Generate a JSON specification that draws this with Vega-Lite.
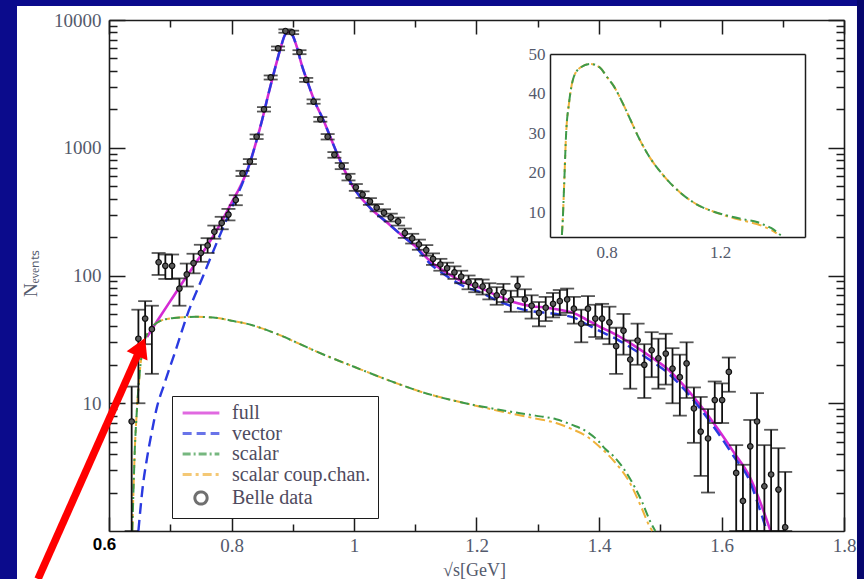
{
  "$schema": "https://vega.github.io/schema/vega-lite/v6.json",
  "width": 735,
  "height": 511,
  "autosize": {"type": "none"},
  "padding": {"left": 109, "top": 20, "right": 20, "bottom": 48},
  "background": "white",
  "config": {
    "view": {"stroke": null},
    "axis": {
      "grid": false,
      "ticks": false,
      "domainColor": "#1c1c1c",
      "domainWidth": 1.6,
      "gridColor": "#1c1c1c",
      "gridWidth": 1.5,
      "gridOpacity": 1,
      "labelFont": "Liberation Serif",
      "labelColor": "#545a6c",
      "titleFont": "Liberation Serif",
      "titleColor": "#545a6c",
      "titleFontWeight": "normal",
      "labelFlush": false,
      "labelOverlap": false,
      "labelBound": false
    }
  },
  "datasets": {
    "curves": [
      {"curve": "full", "x": 0.662, "y": 33},
      {"curve": "full", "x": 0.680, "y": 45},
      {"curve": "full", "x": 0.700, "y": 63},
      {"curve": "full", "x": 0.720, "y": 88},
      {"curve": "full", "x": 0.740, "y": 122},
      {"curve": "full", "x": 0.760, "y": 170},
      {"curve": "full", "x": 0.780, "y": 245},
      {"curve": "full", "x": 0.800, "y": 370},
      {"curve": "full", "x": 0.820, "y": 570},
      {"curve": "full", "x": 0.830, "y": 760},
      {"curve": "full", "x": 0.840, "y": 1100},
      {"curve": "full", "x": 0.850, "y": 1650},
      {"curve": "full", "x": 0.860, "y": 2600},
      {"curve": "full", "x": 0.870, "y": 4000},
      {"curve": "full", "x": 0.880, "y": 6000},
      {"curve": "full", "x": 0.887, "y": 7600},
      {"curve": "full", "x": 0.893, "y": 8100},
      {"curve": "full", "x": 0.899, "y": 7700},
      {"curve": "full", "x": 0.906, "y": 6300},
      {"curve": "full", "x": 0.915, "y": 4400},
      {"curve": "full", "x": 0.923, "y": 3400},
      {"curve": "full", "x": 0.936, "y": 2290},
      {"curve": "full", "x": 0.950, "y": 1650},
      {"curve": "full", "x": 0.961, "y": 1224},
      {"curve": "full", "x": 0.977, "y": 800},
      {"curve": "full", "x": 0.999, "y": 490},
      {"curve": "full", "x": 1.026, "y": 340},
      {"curve": "full", "x": 1.053, "y": 262},
      {"curve": "full", "x": 1.075, "y": 212},
      {"curve": "full", "x": 1.100, "y": 170},
      {"curve": "full", "x": 1.124, "y": 130},
      {"curve": "full", "x": 1.150, "y": 106},
      {"curve": "full", "x": 1.178, "y": 89},
      {"curve": "full", "x": 1.206, "y": 80},
      {"curve": "full", "x": 1.233, "y": 70},
      {"curve": "full", "x": 1.260, "y": 62},
      {"curve": "full", "x": 1.290, "y": 57.5},
      {"curve": "full", "x": 1.315, "y": 56},
      {"curve": "full", "x": 1.340, "y": 53.5},
      {"curve": "full", "x": 1.358, "y": 51},
      {"curve": "full", "x": 1.380, "y": 45},
      {"curve": "full", "x": 1.400, "y": 40},
      {"curve": "full", "x": 1.430, "y": 34},
      {"curve": "full", "x": 1.456, "y": 28.5},
      {"curve": "full", "x": 1.485, "y": 23},
      {"curve": "full", "x": 1.511, "y": 18.7},
      {"curve": "full", "x": 1.540, "y": 13.5},
      {"curve": "full", "x": 1.565, "y": 9.7},
      {"curve": "full", "x": 1.595, "y": 6.2},
      {"curve": "full", "x": 1.619, "y": 4.2},
      {"curve": "full", "x": 1.647, "y": 2.6},
      {"curve": "full", "x": 1.665, "y": 1.6},
      {"curve": "full", "x": 1.680, "y": 1.0},

      {"curve": "vector", "x": 0.648, "y": 1.0},
      {"curve": "vector", "x": 0.655, "y": 2.2},
      {"curve": "vector", "x": 0.662, "y": 3.7},
      {"curve": "vector", "x": 0.670, "y": 6.0},
      {"curve": "vector", "x": 0.678, "y": 9.2},
      {"curve": "vector", "x": 0.690, "y": 14},
      {"curve": "vector", "x": 0.710, "y": 27},
      {"curve": "vector", "x": 0.727, "y": 48},
      {"curve": "vector", "x": 0.754, "y": 100},
      {"curve": "vector", "x": 0.776, "y": 181},
      {"curve": "vector", "x": 0.798, "y": 320},
      {"curve": "vector", "x": 0.820, "y": 560},
      {"curve": "vector", "x": 0.830, "y": 760},
      {"curve": "vector", "x": 0.840, "y": 1100},
      {"curve": "vector", "x": 0.850, "y": 1650},
      {"curve": "vector", "x": 0.860, "y": 2600},
      {"curve": "vector", "x": 0.870, "y": 4000},
      {"curve": "vector", "x": 0.880, "y": 6000},
      {"curve": "vector", "x": 0.887, "y": 7600},
      {"curve": "vector", "x": 0.893, "y": 8100},
      {"curve": "vector", "x": 0.899, "y": 7700},
      {"curve": "vector", "x": 0.906, "y": 6300},
      {"curve": "vector", "x": 0.915, "y": 4400},
      {"curve": "vector", "x": 0.923, "y": 3400},
      {"curve": "vector", "x": 0.936, "y": 2290},
      {"curve": "vector", "x": 0.950, "y": 1650},
      {"curve": "vector", "x": 0.961, "y": 1224},
      {"curve": "vector", "x": 0.977, "y": 800},
      {"curve": "vector", "x": 0.999, "y": 490},
      {"curve": "vector", "x": 1.026, "y": 340},
      {"curve": "vector", "x": 1.053, "y": 262},
      {"curve": "vector", "x": 1.075, "y": 212},
      {"curve": "vector", "x": 1.100, "y": 168},
      {"curve": "vector", "x": 1.124, "y": 124},
      {"curve": "vector", "x": 1.150, "y": 100},
      {"curve": "vector", "x": 1.178, "y": 83},
      {"curve": "vector", "x": 1.206, "y": 74},
      {"curve": "vector", "x": 1.233, "y": 64},
      {"curve": "vector", "x": 1.260, "y": 57},
      {"curve": "vector", "x": 1.290, "y": 52.5},
      {"curve": "vector", "x": 1.315, "y": 51},
      {"curve": "vector", "x": 1.340, "y": 49},
      {"curve": "vector", "x": 1.358, "y": 47},
      {"curve": "vector", "x": 1.380, "y": 41.5},
      {"curve": "vector", "x": 1.400, "y": 37},
      {"curve": "vector", "x": 1.430, "y": 31.5},
      {"curve": "vector", "x": 1.456, "y": 26.5},
      {"curve": "vector", "x": 1.485, "y": 21.5},
      {"curve": "vector", "x": 1.511, "y": 17.5},
      {"curve": "vector", "x": 1.540, "y": 12.7},
      {"curve": "vector", "x": 1.565, "y": 9.1},
      {"curve": "vector", "x": 1.595, "y": 5.8},
      {"curve": "vector", "x": 1.619, "y": 3.9},
      {"curve": "vector", "x": 1.647, "y": 2.4},
      {"curve": "vector", "x": 1.662, "y": 1.5},
      {"curve": "vector", "x": 1.674, "y": 1.0},

      {"curve": "scalar", "x": 0.638, "y": 1.0},
      {"curve": "scalar", "x": 0.641, "y": 3.0},
      {"curve": "scalar", "x": 0.642, "y": 4.2},
      {"curve": "scalar", "x": 0.645, "y": 8},
      {"curve": "scalar", "x": 0.650, "y": 17},
      {"curve": "scalar", "x": 0.657, "y": 30},
      {"curve": "scalar", "x": 0.667, "y": 37.5},
      {"curve": "scalar", "x": 0.683, "y": 44},
      {"curve": "scalar", "x": 0.706, "y": 46.5},
      {"curve": "scalar", "x": 0.742, "y": 47.5},
      {"curve": "scalar", "x": 0.777, "y": 46.5},
      {"curve": "scalar", "x": 0.803, "y": 44},
      {"curve": "scalar", "x": 0.824, "y": 42},
      {"curve": "scalar", "x": 0.857, "y": 37.5},
      {"curve": "scalar", "x": 0.883, "y": 33.5},
      {"curve": "scalar", "x": 0.912, "y": 29},
      {"curve": "scalar", "x": 0.942, "y": 25},
      {"curve": "scalar", "x": 1.000, "y": 19.3},
      {"curve": "scalar", "x": 1.060, "y": 14.9},
      {"curve": "scalar", "x": 1.119, "y": 11.9},
      {"curve": "scalar", "x": 1.178, "y": 10.1},
      {"curve": "scalar", "x": 1.237, "y": 8.9},
      {"curve": "scalar", "x": 1.296, "y": 8.0},
      {"curve": "scalar", "x": 1.330, "y": 7.5},
      {"curve": "scalar", "x": 1.355, "y": 6.8},
      {"curve": "scalar", "x": 1.380, "y": 6.0},
      {"curve": "scalar", "x": 1.400, "y": 5.0},
      {"curve": "scalar", "x": 1.410, "y": 4.4},
      {"curve": "scalar", "x": 1.425, "y": 3.8},
      {"curve": "scalar", "x": 1.450, "y": 2.6},
      {"curve": "scalar", "x": 1.470, "y": 1.7},
      {"curve": "scalar", "x": 1.485, "y": 1.15},
      {"curve": "scalar", "x": 1.492, "y": 1.0},

      {"curve": "scalar coup.chan.", "x": 0.638, "y": 1.0},
      {"curve": "scalar coup.chan.", "x": 0.641, "y": 3.0},
      {"curve": "scalar coup.chan.", "x": 0.642, "y": 4.2},
      {"curve": "scalar coup.chan.", "x": 0.645, "y": 8},
      {"curve": "scalar coup.chan.", "x": 0.650, "y": 17},
      {"curve": "scalar coup.chan.", "x": 0.657, "y": 30},
      {"curve": "scalar coup.chan.", "x": 0.667, "y": 37.5},
      {"curve": "scalar coup.chan.", "x": 0.683, "y": 44},
      {"curve": "scalar coup.chan.", "x": 0.706, "y": 46.5},
      {"curve": "scalar coup.chan.", "x": 0.742, "y": 47.5},
      {"curve": "scalar coup.chan.", "x": 0.777, "y": 46.5},
      {"curve": "scalar coup.chan.", "x": 0.803, "y": 44},
      {"curve": "scalar coup.chan.", "x": 0.824, "y": 42},
      {"curve": "scalar coup.chan.", "x": 0.857, "y": 37.5},
      {"curve": "scalar coup.chan.", "x": 0.883, "y": 33.5},
      {"curve": "scalar coup.chan.", "x": 0.912, "y": 29},
      {"curve": "scalar coup.chan.", "x": 0.942, "y": 25},
      {"curve": "scalar coup.chan.", "x": 1.000, "y": 19.3},
      {"curve": "scalar coup.chan.", "x": 1.060, "y": 14.9},
      {"curve": "scalar coup.chan.", "x": 1.119, "y": 11.9},
      {"curve": "scalar coup.chan.", "x": 1.178, "y": 10.1},
      {"curve": "scalar coup.chan.", "x": 1.237, "y": 8.7},
      {"curve": "scalar coup.chan.", "x": 1.296, "y": 7.6},
      {"curve": "scalar coup.chan.", "x": 1.330, "y": 7.0},
      {"curve": "scalar coup.chan.", "x": 1.355, "y": 6.3},
      {"curve": "scalar coup.chan.", "x": 1.380, "y": 5.5},
      {"curve": "scalar coup.chan.", "x": 1.400, "y": 4.6},
      {"curve": "scalar coup.chan.", "x": 1.425, "y": 3.5},
      {"curve": "scalar coup.chan.", "x": 1.450, "y": 2.4},
      {"curve": "scalar coup.chan.", "x": 1.470, "y": 1.5},
      {"curve": "scalar coup.chan.", "x": 1.482, "y": 1.1},
      {"curve": "scalar coup.chan.", "x": 1.487, "y": 1.0}
    ],
    "belle": [
      {"x": 0.637, "y": 7.2, "lo": 1.0, "hi": 13.5},
      {"x": 0.648, "y": 32, "lo": 10, "hi": 54},
      {"x": 0.659, "y": 46, "lo": 29, "hi": 63},
      {"x": 0.670, "y": 38, "lo": 17, "hi": 58},
      {"x": 0.681, "y": 127, "lo": 101, "hi": 150},
      {"x": 0.692, "y": 119, "lo": 94, "hi": 146},
      {"x": 0.703, "y": 119, "lo": 94, "hi": 146},
      {"x": 0.715, "y": 79, "lo": 58, "hi": 95},
      {"x": 0.727, "y": 102, "lo": 82, "hi": 124},
      {"x": 0.738, "y": 125, "lo": 104, "hi": 148},
      {"x": 0.750, "y": 150, "lo": 128, "hi": 174},
      {"x": 0.761, "y": 172, "lo": 150, "hi": 196},
      {"x": 0.772, "y": 220, "lo": 194, "hi": 246},
      {"x": 0.784, "y": 258, "lo": 230, "hi": 288},
      {"x": 0.795, "y": 300, "lo": 270, "hi": 332},
      {"x": 0.807, "y": 390, "lo": 355, "hi": 425},
      {"x": 0.818, "y": 630, "lo": 600, "hi": 660},
      {"x": 0.830, "y": 780, "lo": 745, "hi": 815},
      {"x": 0.841, "y": 1220, "lo": 1170, "hi": 1270},
      {"x": 0.853, "y": 2000, "lo": 1920, "hi": 2080},
      {"x": 0.864, "y": 3550, "lo": 3420, "hi": 3680},
      {"x": 0.876, "y": 6000, "lo": 5800, "hi": 6200},
      {"x": 0.888, "y": 8200, "lo": 7950, "hi": 8450},
      {"x": 0.899, "y": 8000, "lo": 7750, "hi": 8250},
      {"x": 0.911, "y": 5600, "lo": 5400, "hi": 5800},
      {"x": 0.922, "y": 3400, "lo": 3280, "hi": 3520},
      {"x": 0.934, "y": 2300, "lo": 2210, "hi": 2390},
      {"x": 0.945, "y": 1670, "lo": 1600, "hi": 1740},
      {"x": 0.957, "y": 1220, "lo": 1160, "hi": 1280},
      {"x": 0.968, "y": 880, "lo": 835, "hi": 925},
      {"x": 0.980, "y": 720, "lo": 680, "hi": 760},
      {"x": 0.991, "y": 590, "lo": 555, "hi": 625},
      {"x": 1.003, "y": 490, "lo": 460, "hi": 520},
      {"x": 1.014, "y": 430, "lo": 405, "hi": 455},
      {"x": 1.026, "y": 380, "lo": 357, "hi": 403},
      {"x": 1.037, "y": 340, "lo": 318, "hi": 362},
      {"x": 1.049, "y": 310, "lo": 290, "hi": 330},
      {"x": 1.060, "y": 285, "lo": 265, "hi": 305},
      {"x": 1.072, "y": 265, "lo": 246, "hi": 284},
      {"x": 1.083, "y": 215, "lo": 197, "hi": 233},
      {"x": 1.095, "y": 195, "lo": 178, "hi": 212},
      {"x": 1.106, "y": 175, "lo": 159, "hi": 191},
      {"x": 1.118, "y": 158, "lo": 143, "hi": 173},
      {"x": 1.129, "y": 135, "lo": 121, "hi": 149},
      {"x": 1.141, "y": 122, "lo": 109, "hi": 135},
      {"x": 1.152, "y": 114, "lo": 102, "hi": 126},
      {"x": 1.164, "y": 106, "lo": 94, "hi": 118},
      {"x": 1.175, "y": 98, "lo": 87, "hi": 109},
      {"x": 1.187, "y": 89, "lo": 78, "hi": 100},
      {"x": 1.198, "y": 84, "lo": 74, "hi": 94},
      {"x": 1.210, "y": 82, "lo": 71, "hi": 93},
      {"x": 1.221, "y": 76, "lo": 65, "hi": 87},
      {"x": 1.233, "y": 70, "lo": 59, "hi": 81},
      {"x": 1.244, "y": 74, "lo": 62, "hi": 86},
      {"x": 1.256, "y": 64, "lo": 52, "hi": 76},
      {"x": 1.267, "y": 83, "lo": 68, "hi": 98},
      {"x": 1.279, "y": 65, "lo": 52, "hi": 78},
      {"x": 1.290, "y": 58, "lo": 46, "hi": 70},
      {"x": 1.302, "y": 51, "lo": 40, "hi": 62},
      {"x": 1.313, "y": 56, "lo": 44, "hi": 68},
      {"x": 1.325, "y": 60, "lo": 47, "hi": 73},
      {"x": 1.336, "y": 63, "lo": 49, "hi": 77},
      {"x": 1.348, "y": 65, "lo": 51, "hi": 79},
      {"x": 1.359, "y": 55, "lo": 42, "hi": 68},
      {"x": 1.371, "y": 42, "lo": 30, "hi": 54},
      {"x": 1.382, "y": 55, "lo": 41, "hi": 69},
      {"x": 1.394, "y": 46, "lo": 33, "hi": 59},
      {"x": 1.405, "y": 46, "lo": 32, "hi": 60},
      {"x": 1.417, "y": 43, "lo": 29, "hi": 57},
      {"x": 1.428, "y": 28, "lo": 17, "hi": 39},
      {"x": 1.440, "y": 37, "lo": 24, "hi": 50},
      {"x": 1.451, "y": 22, "lo": 13, "hi": 31},
      {"x": 1.463, "y": 31, "lo": 20, "hi": 42},
      {"x": 1.474, "y": 20, "lo": 11, "hi": 29},
      {"x": 1.486, "y": 26, "lo": 16, "hi": 36},
      {"x": 1.497, "y": 22.5, "lo": 13, "hi": 32},
      {"x": 1.509, "y": 24.5, "lo": 14, "hi": 35},
      {"x": 1.520, "y": 18.7, "lo": 10, "hi": 27},
      {"x": 1.532, "y": 16, "lo": 8, "hi": 24},
      {"x": 1.543, "y": 20.5, "lo": 11, "hi": 30},
      {"x": 1.555, "y": 9.1, "lo": 4.9, "hi": 13.3},
      {"x": 1.566, "y": 6.0, "lo": 2.7, "hi": 11.2},
      {"x": 1.578, "y": 5.3, "lo": 2.0, "hi": 9.0},
      {"x": 1.589, "y": 10.6, "lo": 7.0, "hi": 14.8},
      {"x": 1.601, "y": 10.6, "lo": 7.0, "hi": 14.3},
      {"x": 1.612, "y": 17.6, "lo": 12.3, "hi": 22.8},
      {"x": 1.624, "y": 2.85, "lo": 1.0, "hi": 4.7},
      {"x": 1.635, "y": 1.72, "lo": 1.0, "hi": 3.3},
      {"x": 1.647, "y": 4.6, "lo": 1.0, "hi": 7.4},
      {"x": 1.658, "y": 7.2, "lo": 1.0, "hi": 12},
      {"x": 1.670, "y": 2.24, "lo": 1.0, "hi": 4.7},
      {"x": 1.681, "y": 2.77, "lo": 1.0, "hi": 6.2},
      {"x": 1.693, "y": 2.11, "lo": 1.0, "hi": 4.45},
      {"x": 1.704, "y": 1.07, "lo": 1.0, "hi": 2.9}
    ]
  },
  "layer": [
    {
      "data": {"values": [{}]},
      "mark": {"type": "rect", "color": "#0b0b8c"},
      "encoding": {
        "x": {"datum": 0.3, "type": "quantitative", "scale": {"type": "linear", "domain": [0.6, 1.8], "nice": false, "zero": false}, "axis": null},
        "x2": {"datum": 0.4498},
        "y": {"datum": 0.01, "type": "quantitative", "scale": {"type": "log", "domain": [1, 10000], "nice": false}, "axis": null},
        "y2": {"datum": 1000000}
      }
    },
    {
      "data": {"values": [{}]},
      "mark": {"type": "rect", "color": "#0b0b8c"},
      "encoding": {
        "x": {"datum": 0.3, "type": "quantitative", "scale": {"type": "linear", "domain": [0.6, 1.8], "nice": false, "zero": false}, "axis": null},
        "x2": {"datum": 2.0},
        "y": {"datum": 12875, "type": "quantitative", "scale": {"type": "log", "domain": [1, 10000], "nice": false}, "axis": null},
        "y2": {"datum": 1000000}
      }
    },
    {
      "data": {"values": [{}]},
      "mark": {"type": "rect", "color": "#06066e"},
      "encoding": {
        "x": {"datum": 1.8212, "type": "quantitative", "scale": {"type": "linear", "domain": [0.6, 1.8], "nice": false, "zero": false}, "axis": null},
        "x2": {"datum": 2.0},
        "y": {"datum": 0.01, "type": "quantitative", "scale": {"type": "log", "domain": [1, 10000], "nice": false}, "axis": null},
        "y2": {"datum": 1000000}
      }
    },
    {
      "data": {"name": "curves"},
      "transform": [{"filter": "datum.curve === 'full'"}],
      "mark": {"type": "line", "strokeWidth": 2.6, "color": "#d42ad4", "interpolate": "monotone"},
      "encoding": {
        "x": {
          "field": "x", "type": "quantitative",
          "scale": {"type": "linear", "domain": [0.6, 1.8], "nice": false, "zero": false},
          "axis": {
            "orient": "bottom",
            "values": [0.6, 0.8, 1, 1.2, 1.4, 1.6, 1.8],
            "format": "~g",
            "grid": true,
            "gridDash": [14, 483, 14, 2000],
            "labelPadding": 5,
            "labelFontSize": {"condition": {"test": "datum.value < 0.7", "value": 17}, "value": 19},
            "labelFont": {"condition": {"test": "datum.value < 0.7", "value": "Liberation Sans"}, "value": "Liberation Serif"},
            "labelFontWeight": {"condition": {"test": "datum.value < 0.7", "value": "bold"}, "value": "normal"},
            "labelColor": {"condition": {"test": "datum.value < 0.7", "value": "#000000"}, "value": "#545a6c"},
            "labelOffset": {"condition": {"test": "datum.value < 0.7", "value": -5}, "value": 0},
            "title": "√s[GeV]",
            "titleFontSize": 18,
            "titleX": 365,
            "titleY": 39,
            "titleAlign": "center",
            "titleBaseline": "middle"
          }
        },
        "y": {
          "field": "y", "type": "quantitative",
          "scale": {"type": "log", "domain": [1, 10000], "nice": false},
          "axis": {
            "orient": "left",
            "values": [10, 100, 1000, 10000],
            "format": "d",
            "grid": true,
            "gridDash": [16, 703, 16, 2000],
            "labelPadding": 8,
            "labelFontSize": 19,
            "title": "Nₑᵥₑₙₜₛ",
            "titleFontSize": 19,
            "titleX": -79,
            "titleY": 253,
            "titleAngle": 270,
            "titleAlign": "center",
            "titleBaseline": "middle"
          }
        }
      }
    },
    {
      "data": {"name": "curves"},
      "transform": [{"filter": "datum.curve === 'vector'"}],
      "mark": {"type": "line", "strokeWidth": 2.4, "color": "#2a3ae0", "strokeDash": [11, 6], "interpolate": "monotone"},
      "encoding": {
        "x": {
          "field": "x", "type": "quantitative",
          "scale": {"type": "linear", "domain": [0.6, 1.8], "nice": false, "zero": false},
          "axis": {"orient": "bottom", "values": [0.7, 0.9, 1.1, 1.3, 1.5, 1.7], "grid": true, "gridDash": [7, 497, 7, 2000], "labels": false, "domain": false, "title": null}
        },
        "y": {
          "field": "y", "type": "quantitative",
          "scale": {"type": "log", "domain": [1, 10000], "nice": false},
          "axis": {"orient": "left", "values": [2, 3, 4, 5, 6, 7, 8, 9, 20, 30, 40, 50, 60, 70, 80, 90, 200, 300, 400, 500, 600, 700, 800, 900, 2000, 3000, 4000, 5000, 6000, 7000, 8000, 9000], "grid": true, "gridDash": [8, 719, 8, 2000], "labels": false, "domain": false, "title": null}
        }
      }
    },
    {
      "data": {"name": "curves"},
      "transform": [{"filter": "datum.curve === 'scalar coup.chan.'"}],
      "mark": {"type": "line", "strokeWidth": 2, "color": "#f0b23c", "strokeDash": [10, 4, 3, 4], "interpolate": "monotone"},
      "encoding": {
        "x": {"field": "x", "type": "quantitative", "scale": {"type": "linear", "domain": [0.6, 1.8], "nice": false, "zero": false}, "axis": null},
        "y": {"field": "y", "type": "quantitative", "scale": {"type": "log", "domain": [1, 10000], "nice": false}, "axis": null}
      }
    },
    {
      "data": {"name": "curves"},
      "transform": [{"filter": "datum.curve === 'scalar'"}],
      "mark": {"type": "line", "strokeWidth": 2, "color": "#3d9a4a", "strokeDash": [9, 4, 2, 4], "interpolate": "monotone"},
      "encoding": {
        "x": {
          "field": "x", "type": "quantitative",
          "scale": {"type": "linear", "domain": [0.6, 1.8], "nice": false, "zero": false},
          "axis": {"orient": "bottom", "offset": -511, "values": [1], "labels": false, "title": null}
        },
        "y": {
          "field": "y", "type": "quantitative",
          "scale": {"type": "log", "domain": [1, 10000], "nice": false},
          "axis": {"orient": "left", "offset": -735, "values": [10], "labels": false, "title": null}
        }
      }
    },
    {
      "data": {"name": "belle"},
      "mark": {"type": "rule", "color": "#111111", "strokeWidth": 1.8},
      "encoding": {
        "x": {"field": "x", "type": "quantitative", "scale": {"type": "linear", "domain": [0.6, 1.8], "nice": false, "zero": false}, "axis": null},
        "y": {"field": "lo", "type": "quantitative", "scale": {"type": "log", "domain": [1, 10000], "nice": false}, "axis": null},
        "y2": {"field": "hi"}
      }
    },
    {
      "data": {"name": "belle"},
      "mark": {"type": "tick", "orient": "horizontal", "color": "#111111", "size": 14, "thickness": 1.8},
      "encoding": {
        "x": {"field": "x", "type": "quantitative", "scale": {"type": "linear", "domain": [0.6, 1.8], "nice": false, "zero": false}, "axis": null},
        "y": {"field": "lo", "type": "quantitative", "scale": {"type": "log", "domain": [1, 10000], "nice": false}, "axis": null}
      }
    },
    {
      "data": {"name": "belle"},
      "mark": {"type": "tick", "orient": "horizontal", "color": "#111111", "size": 14, "thickness": 1.8},
      "encoding": {
        "x": {"field": "x", "type": "quantitative", "scale": {"type": "linear", "domain": [0.6, 1.8], "nice": false, "zero": false}, "axis": null},
        "y": {"field": "hi", "type": "quantitative", "scale": {"type": "log", "domain": [1, 10000], "nice": false}, "axis": null}
      }
    },
    {
      "data": {"name": "belle"},
      "mark": {"type": "point", "filled": true, "fill": "#5a5a5a", "stroke": "#111111", "strokeWidth": 1.2, "size": 30, "opacity": 1},
      "encoding": {
        "x": {"field": "x", "type": "quantitative", "scale": {"type": "linear", "domain": [0.6, 1.8], "nice": false, "zero": false}, "axis": null},
        "y": {"field": "y", "type": "quantitative", "scale": {"type": "log", "domain": [1, 10000], "nice": false}, "axis": null}
      }
    },
    {
      "data": {"name": "curves"},
      "transform": [{"filter": "datum.curve === 'legend only'"}],
      "mark": {"type": "point", "filled": false},
      "encoding": {
        "x": {"field": "x", "type": "quantitative", "scale": {"type": "linear", "domain": [0.6, 1.8], "nice": false, "zero": false}, "axis": null},
        "y": {"field": "y", "type": "quantitative", "scale": {"type": "log", "domain": [1, 10000], "nice": false}, "axis": null},
        "color": {
          "field": "curve", "type": "nominal",
          "scale": {
            "domain": ["full", "vector", "scalar", "scalar coup.chan.", "Belle data"],
            "range": ["#d42ad4", "#2a3ae0", "#3d9a4a", "#f0b23c", "#333333"]
          },
          "legend": {
            "orient": "none",
            "legendX": 63,
            "legendY": 376,
            "title": null,
            "fillColor": "white",
            "strokeColor": "#1c1c1c",
            "padding": 7,
            "labelFont": "Liberation Serif",
            "labelFontSize": 20,
            "labelColor": "#4f4b5e",
            "symbolOffset": 12,
            "labelOffset": 21,
            "rowPadding": 0.5
          }
        },
        "shape": {
          "field": "curve", "type": "nominal",
          "scale": {
            "domain": ["full", "vector", "scalar", "scalar coup.chan.", "Belle data"],
            "range": ["M-3,0H3", "M-3,0H3", "M-3,0H3", "M-3,0H3", "circle"]
          }
        },
        "strokeDash": {
          "field": "curve", "type": "nominal",
          "scale": {
            "domain": ["full", "vector", "scalar", "scalar coup.chan.", "Belle data"],
            "range": [[1, 0], [9, 5], [8, 3, 2, 3], [9, 4, 3, 4], [1, 0]]
          }
        },
        "size": {
          "field": "curve", "type": "nominal",
          "scale": {
            "domain": ["full", "vector", "scalar", "scalar coup.chan.", "Belle data"],
            "range": [150, 150, 150, 150, 20]
          }
        },
        "strokeWidth": {
          "field": "curve", "type": "nominal",
          "scale": {
            "domain": ["full", "vector", "scalar", "scalar coup.chan.", "Belle data"],
            "range": [3, 3, 3, 3, 2]
          }
        }
      }
    },
    {
      "data": {"values": [{}]},
      "mark": {"type": "rule", "color": "#ff0000", "strokeWidth": 7.5, "strokeCap": "butt"},
      "encoding": {
        "x": {"datum": 0.4841, "type": "quantitative", "scale": {"type": "linear", "domain": [0.6, 1.8], "nice": false, "zero": false}, "axis": null},
        "y": {"datum": 0.421, "type": "quantitative", "scale": {"type": "log", "domain": [1, 10000], "nice": false}, "axis": null},
        "x2": {"datum": 0.6524},
        "y2": {"datum": 27.6}
      }
    },
    {
      "data": {"values": [{}]},
      "mark": {"type": "point", "shape": "triangle-up", "filled": true, "color": "#ff0000", "opacity": 1, "size": 520, "angle": 24},
      "encoding": {
        "x": {"datum": 0.6524, "type": "quantitative", "scale": {"type": "linear", "domain": [0.6, 1.8], "nice": false, "zero": false}, "axis": null},
        "y": {"datum": 27.6, "type": "quantitative", "scale": {"type": "log", "domain": [1, 10000], "nice": false}, "axis": null}
      }
    },
    {
      "data": {"name": "curves"},
      "transform": [{"filter": "datum.curve === 'scalar coup.chan.' && datum.y >= 3.7 && datum.x <= 1.5"}],
      "mark": {"type": "line", "strokeWidth": 2, "color": "#f0b23c", "strokeDash": [10, 4, 3, 4], "interpolate": "monotone"},
      "encoding": {
        "x": {
          "field": "x", "type": "quantitative",
          "scale": {"type": "linear", "domain": [0.6, 1.5], "range": [441, 696], "nice": false, "zero": false},
          "axis": {"orient": "bottom", "offset": -294, "values": [0.8, 1, 1.2, 1.4], "grid": true, "gridDash": [0, 294, 10, 165, 8, 2000], "labels": false, "domain": false, "title": null}
        },
        "y": {
          "field": "y", "type": "quantitative",
          "scale": {"type": "linear", "domain": [3.7, 50], "range": [217, 34], "nice": false, "zero": false},
          "axis": {"orient": "left", "offset": -441, "values": [5, 15, 25, 35, 45], "grid": true, "gridDash": [0, 441, 6, 243, 6, 2000], "labels": false, "domain": false, "title": null}
        }
      }
    },
    {
      "data": {"name": "curves"},
      "transform": [{"filter": "datum.curve === 'scalar' && datum.y >= 3.7 && datum.x <= 1.5"}],
      "mark": {"type": "line", "strokeWidth": 2, "color": "#3d9a4a", "strokeDash": [9, 4, 2, 4], "interpolate": "monotone"},
      "encoding": {
        "x": {
          "field": "x", "type": "quantitative",
          "scale": {"type": "linear", "domain": [0.6, 1.5], "range": [441, 696], "nice": false, "zero": false},
          "axis": {
            "orient": "bottom", "offset": -294, "values": [0.8, 1.2], "format": "~g",
            "labelPadding": 7, "labelFontSize": 17, "title": null, "domainWidth": 1.5
          }
        },
        "y": {
          "field": "y", "type": "quantitative",
          "scale": {"type": "linear", "domain": [3.7, 50], "range": [217, 34], "nice": false, "zero": false},
          "axis": {
            "orient": "left", "offset": -441, "values": [10, 20, 30, 40, 50],
            "grid": true, "gridDash": [0, 441, 12, 231, 12, 2000],
            "labelPadding": 5, "labelFontSize": 17, "title": null, "domainWidth": 1.5
          }
        }
      }
    },
    {
      "data": {"name": "curves"},
      "transform": [{"filter": "datum.curve === 'scalar' && datum.y >= 3.7 && datum.x <= 1.5"}],
      "mark": {"type": "point", "opacity": 0},
      "encoding": {
        "x": {
          "field": "x", "type": "quantitative",
          "scale": {"type": "linear", "domain": [0.6, 1.5], "range": [441, 696], "nice": false, "zero": false},
          "axis": {"orient": "bottom", "offset": -477, "values": [1], "labels": false, "title": null, "domainWidth": 1.5}
        },
        "y": {
          "field": "y", "type": "quantitative",
          "scale": {"type": "linear", "domain": [3.7, 50], "range": [217, 34], "nice": false, "zero": false},
          "axis": {"orient": "left", "offset": -696, "values": [10], "labels": false, "title": null, "domainWidth": 1.5}
        }
      }
    }
  ],
  "resolve": {
    "scale": {"x": "independent", "y": "independent"},
    "axis": {"x": "independent", "y": "independent"}
  }
}
